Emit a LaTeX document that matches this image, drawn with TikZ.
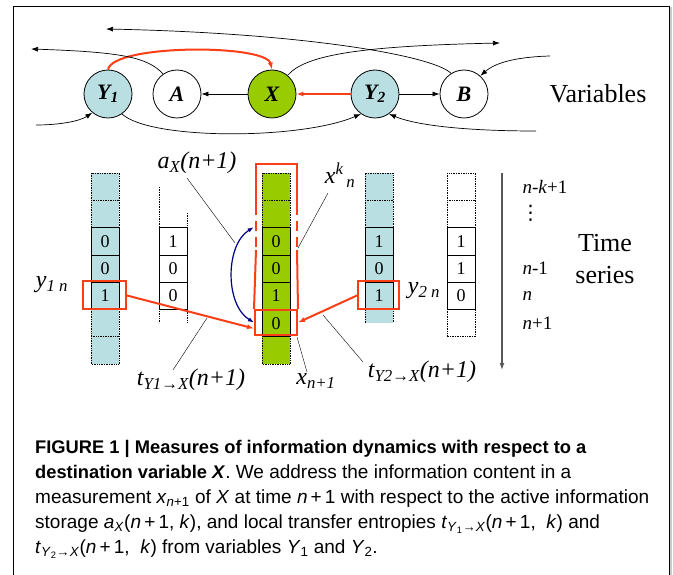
\documentclass[tikz,border=0pt]{standalone}
\usepackage{fontspec}
\setmainfont{Liberation Serif}
\newfontfamily\capfont{Liberation Sans}
\newfontfamily\symfont{DejaVu Sans}
\usetikzlibrary{arrows.meta}

\definecolor{lightcyan}{RGB}{185,223,227}
\definecolor{leafgreen}{RGB}{153,204,0}
\definecolor{hotred}{RGB}{250,62,22}
\definecolor{deepnavy}{RGB}{0,0,128}
\newcommand\capbf[1]{{\fontsize{18.3}{25}\selectfont\bfseries #1}}

\begin{document}
\begin{tikzpicture}[x=1pt,y=-1pt,
    >={Latex[length=7pt,width=5pt]},
    var/.style={circle,draw,line width=0.8pt,minimum size=48pt,inner sep=0pt,
        font=\fontsize{22}{24}\selectfont\bfseries\itshape},
    link/.style={->,line width=0.7pt},
    hot/.style={draw=hotred,line width=2pt},
    cell/.style={draw,line width=0.7pt,minimum width=28pt,minimum height=27.3pt,
        inner sep=0pt,font=\fontsize{18}{20}\selectfont},
    dots/.style={densely dotted,line width=0.7pt},
    redbox/.style={hot,inner sep=0pt},
    lead/.style={line width=0.4pt},
    big/.style={font=\fontsize{24}{26}\selectfont\itshape},
    tick/.style={anchor=west,font=\fontsize{19}{21}\selectfont},
    capline/.style={anchor=base west,inner sep=0pt,font=\capfont\fontsize{19}{25}\selectfont}]
    \useasboundingbox (0,0) rectangle (673,575);
    % frame
    \draw[line width=1pt] (13,575) -- (13,7) -- (669,7) -- (669,575);
    \draw[gray!40,line width=1.5pt] (671,7) -- (671,575);

    % variables
    \node[var,fill=lightcyan] at (108,94) (y1) {Y\textsubscript{1}};
    \node[var] at (177,94) (a) {A};
    \node[var,fill=leafgreen] at (272,94) (x) {X};
    \node[var,fill=lightcyan] at (375,94) (y2) {Y\textsubscript{2}};
    \node[var] at (464,94) (b) {B};
    \node[font=\fontsize{26}{28}\selectfont] at (598,94) (vars) {Variables};

    \coordinate (outa) at (31,49);
    \coordinate (outb) at (106,29);
    \coordinate (outx) at (500,43);
    \coordinate (inb) at (550,56);
    \coordinate (iny1) at (36,125);
    \coordinate (iny2) at (536,131);

    \draw[link] (x) -- (a);
    \draw[->,hot] (y2) -- (x);
    \draw[link] (y2) -- (b);
    \draw[->,hot] (y1.north) .. controls (113,44) and (266,44) .. (x.north);
    \draw[link] (a.125) .. controls (148,57) and (120,52) .. (outa);
    \draw[link] (b.122) .. controls (432,55) and (300,33) .. (outb);
    \draw[link] (x.50) .. controls (305,55) and (360,46) .. (outx);
    \draw[link] (inb) .. controls (515,57) and (495,63) .. (b.48);
    \draw[link] (iny1) .. controls (60,125) and (80,121) .. (y1.230);
    \draw[link] (y1.305) .. controls (150,140) and (300,140) .. (y2.235);
    \draw[link] (iny2) .. controls (470,131) and (418,126) .. (y2.305);

    % time series of Y1
    \fill[lightcyan] (91,173) rectangle (119,364.1);
    \draw[dots] (91,173) rectangle (119,364.1);
    \draw[dots] (91,200.3) -- (119,200.3) (91,309.5) -- (119,309.5) (91,336.8) -- (119,336.8);
    \foreach \v [count=\k from 3] in {0,0,1}
        \node[cell] at (105,{173+(\k-0.5)*27.3}) (y1c\k) {\v};

    % time series of A
    \draw[dots] (159,187) -- (159,323) (187,213) -- (187,323);
    \foreach \v [count=\k from 3] in {1,0,0}
        \node[cell] at (173,{173+(\k-0.5)*27.3}) (ac\k) {\v};

    % time series of X
    \fill[leafgreen] (262,173) rectangle (290,364.1);
    \draw[dots] (262,173) rectangle (290,364.1);
    \draw[dots] (262,200.3) -- (290,200.3);
    \foreach \v [count=\k from 3] in {0,0,1,0}
        \node[cell] at (276,{173+(\k-0.5)*27.3}) (xc\k) {\v};

    % time series of Y2
    \fill[lightcyan] (365,173) rectangle (393,323);
    \draw[dots] (365,323) -- (365,173) -- (393,173) -- (393,323);
    \draw[dots] (365,200.3) -- (393,200.3);
    \foreach \v [count=\k from 3] in {1,0,1}
        \node[cell] at (379,{173+(\k-0.5)*27.3}) (y2c\k) {\v};

    % time series of B
    \draw[dots] (447,173) rectangle (475,336.8);
    \draw[dots] (447,200.3) -- (475,200.3);
    \foreach \v [count=\k from 3] in {1,1,0}
        \node[cell] at (461,{173+(\k-0.5)*27.3}) (bc\k) {\v};

    % red boxes
    \node[redbox,minimum width=43pt,minimum height=28pt] at (104.5,295.5) (y1n) {};
    \node[redbox,minimum width=41pt,minimum height=28pt] at (378.5,295.5) (y2n) {};
    \node[redbox,minimum width=42pt,minimum height=25pt] at (276,322.5) (xn1) {};
    \draw[hot] (256,205) -- (256,164) -- (297,164) -- (297,205);
    \draw[hot,dash pattern=on 10pt off 6pt] (256,205) -- (256,250) (297,205) -- (297,250);
    \draw[hot] (256,250) -- (xn1.north west) (297,250) -- (xn1.north east);

    \draw[->,hot] (y1n.east) -- ([yshift=-6pt]xn1.west);
    \draw[->,hot] (y2n.west) -- (xn1.east);
    \draw[<->,deepnavy,line width=1.2pt,>={Latex[length=6pt,width=4.5pt]}]
        ([xshift=-8pt]xc3.north west) .. controls (225,245) and (225,305) .. (xn1.west);

    % labels
    \node[big] at (197,163) (ax) {a\textsubscript{X}(n+1)};
    \node[big] at (340,175) (xk) {x\textsuperscript{k}\textsubscript{\,n}};
    \node[big] at (52,285) (y1lab) {y\textsubscript{1 n}};
    \node[big] at (424,291) (y2lab) {y\textsubscript{2 n}};
    \node[big] at (191,380) (t1) {t\textsubscript{Y1→X}(n+1)};
    \node[big] at (316,381) (xnl) {x\textsubscript{n+1}};
    \node[big] at (422,372) (t2) {t\textsubscript{Y2→X}(n+1)};

    \draw[lead] (187,178) -- (235,243);
    \draw[lead] (328,193) -- (298,248);
    \draw[lead] (173,370) -- (207,318);
    \draw[lead] (307,372) -- (297,337);
    \draw[lead] (363,362) -- (323,315);

    % time axis
    \coordinate (tstart) at (502,173);
    \coordinate (tend) at (502,370);
    \draw[->,black!65,line width=1.2pt] (tstart) -- (tend);
    \node[tick] at (519,186.6) (k1) {\textit{n}-\textit{k}+1};
    \node[tick,font=\symfont\fontsize{20}{20}\selectfont] at (517,213) (k2) {⋮};
    \node[tick] at (519,268.5) (k4) {\textit{n}-1};
    \node[tick] at (519,295.8) (k5) {\textit{n}};
    \node[tick] at (519,323.1) (k6) {\textit{n}+1};
    \node[align=center,font=\fontsize{26}{32}\selectfont] at (605,259) (ts) {Time\\series};

    % caption
    \node[capline] at (35,453) (cap1) {\capbf{FIGURE 1 | Measures of information dynamics with respect to a}};
    \node[capline] at (35,478) (cap2) {\capbf{destination variable \textit{X}}. We address the information content in a};
    \node[capline] at (35,503) (cap3) {measurement \textit{x}\textsubscript{\textit{n}+1} of \textit{X} at time \textit{n}\,+\,1 with respect to the active information};
    \node[capline] at (35,528) (cap4) {storage \textit{a}\textsubscript{\textit{X}}(\textit{n}\,+\,1, \textit{k}), and local transfer entropies \textit{t}\textsubscript{\textit{Y}\textsubscript{1}→\textit{X}}(\textit{n}\,+\,1, \ \textit{k}) and};
    \node[capline] at (35,553) (cap5) {\textit{t}\textsubscript{\textit{Y}\textsubscript{2}→\textit{X}}(\textit{n}\,+\,1, \ \textit{k}) from variables \textit{Y}\textsubscript{1} and \textit{Y}\textsubscript{2}.};
\end{tikzpicture}
\end{document}
